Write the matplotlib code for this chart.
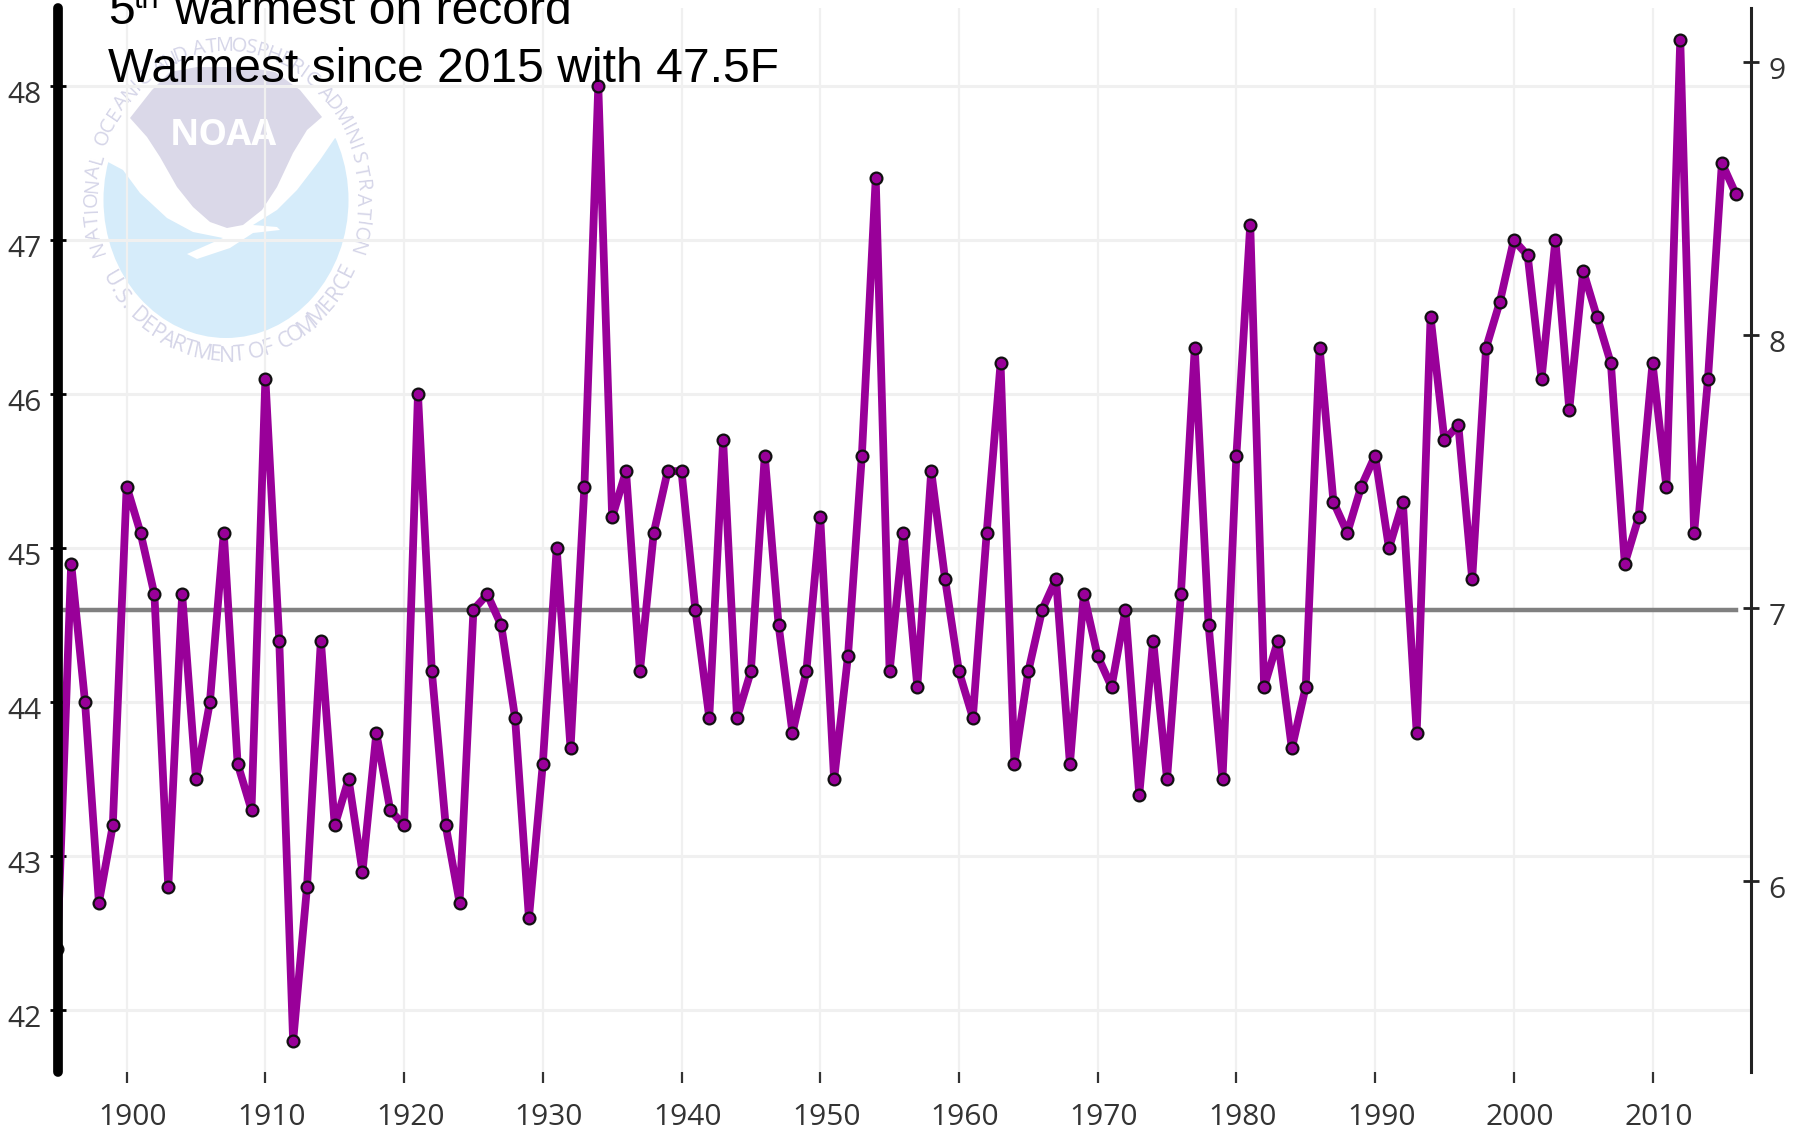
# %%
import numpy as np
import matplotlib.pyplot as plt
from matplotlib.patches import Ellipse, Polygon
from matplotlib.transforms import ScaledTranslation

plt.rcParams['font.family'] = ['Open Sans', 'DejaVu Sans']

# %%
YEARS = list(range(1895, 2017))
TEMPS = [42.4, 44.9, 44.0, 42.7, 43.2,
         45.4, 45.1, 44.7, 42.8, 44.7, 43.5, 44.0, 45.1, 43.6, 43.3,
         46.1, 44.4, 41.8, 42.8, 44.4, 43.2, 43.5, 42.9, 43.8, 43.3,
         43.2, 46.0, 44.2, 43.2, 42.7, 44.6, 44.7, 44.5, 43.9, 42.6,
         43.6, 45.0, 43.7, 45.4, 48.0, 45.2, 45.5, 44.2, 45.1, 45.5,
         45.5, 44.6, 43.9, 45.7, 43.9, 44.2, 45.6, 44.5, 43.8, 44.2,
         45.2, 43.5, 44.3, 45.6, 47.4, 44.2, 45.1, 44.1, 45.5, 44.8,
         44.2, 43.9, 45.1, 46.2, 43.6, 44.2, 44.6, 44.8, 43.6, 44.7,
         44.3, 44.1, 44.6, 43.4, 44.4, 43.5, 44.7, 46.3, 44.5, 43.5,
         45.6, 47.1, 44.1, 44.4, 43.7, 44.1, 46.3, 45.3, 45.1, 45.4,
         45.6, 45.0, 45.3, 43.8, 46.5, 45.7, 45.8, 44.8, 46.3, 46.6,
         47.0, 46.9, 46.1, 47.0, 45.9, 46.8, 46.5, 46.2, 44.9, 45.2,
         46.2, 45.4, 48.3, 45.1, 46.1, 47.5, 47.3]
MEAN_TEMP = 44.6
LEFT_TICKS = [42, 43, 44, 45, 46, 47, 48]
RIGHT_TICKS = [6, 7, 8, 9]
X_TICKS = list(range(1900, 2011, 10))

W, H = 1798, 1131
PURPLE = '#990099'

# %%
fig = plt.figure(figsize=(W / 100, H / 100), dpi=100)

# logo goes under the chart, drawn in pixel coords
bg = fig.add_axes([0, 0, 1, 1], zorder=0)
bg.set_xlim(0, W)
bg.set_ylim(H, 0)
bg.axis('off')
bg.add_patch(Ellipse((226, 200), 245, 276, fc='#d6ecfa', ec='none'))
bg.add_patch(Polygon([(85, 50), (370, 50), (370, 138), (335, 138), (320, 160), (297, 190),
                      (277, 210), (253, 225), (277, 227), (280, 230), (253, 233),
                      (230, 248), (197, 259), (187, 254), (223, 238), (193, 232),
                      (167, 218), (140, 193), (123, 170), (108, 162), (85, 162)],
                     fc='white', ec='none'))
bg.add_patch(Polygon([(130, 118), (152, 90), (170, 72), (197, 67), (247, 67), (275, 72),
                      (300, 90), (322, 117), (307, 130), (293, 153), (277, 187),
                      (262, 210), (243, 225), (227, 228), (210, 222), (193, 207),
                      (177, 187), (160, 157), (147, 137)], fc='#dad8e8', ec='none'))
bg.text(223, 136, 'NOAA', color='white', fontsize=26, fontweight='bold',
        ha='center', va='center')


def ring_text(txt, start, stop, size, bottom=False):
    # narrow letters take less of the arc
    weights = [0.55 if c in 'I. ' else 1.3 if c in 'MW' else 1.0 for c in txt]
    pos = np.cumsum(weights) - np.array(weights) / 2
    angles = start + (stop - start) * pos / sum(weights)
    for ch, ang in zip(txt, angles):
        a = np.deg2rad(ang)
        x = 227 + 135 * np.cos(a)
        y = 201 - 155 * np.sin(a)
        rot = ang + (90 if bottom else -90)
        bg.text(x, y, ch, color='#d5d5e8', fontsize=size, ha='center', va='center',
                rotation=rot, rotation_mode='anchor')


ring_text('NATIONAL OCEANIC AND ATMOSPHERIC ADMINISTRATION', 200, -20, 14.5)
ring_text('U.S. DEPARTMENT OF COMMERCE', 208, 336, 15.5, bottom=True)

# %%
ax = fig.add_axes([58 / W, 1 - 1072 / H, (1751 - 58) / W, (1072 - 8) / H], zorder=1)
ax.patch.set_alpha(0)
ax.set_xlim(1895.05, 2017.1)
ax.set_ylim(41.6, 48.506)
ax.grid(True, axis='y', color='#f0f0f0', linewidth=2.2)
ax.grid(True, axis='x', color='#f0f0f0', linewidth=1.6)
ax.set_axisbelow(True)
ax.plot([YEARS[0], YEARS[-1]], [MEAN_TEMP, MEAN_TEMP], color='#808080', linewidth=3.2, zorder=2)
ax.plot(YEARS, TEMPS, color=PURPLE, linewidth=5.6, marker='o', markersize=8.5,
        markerfacecolor=PURPLE, markeredgecolor='#111111', markeredgewidth=1.6, zorder=3)

ax.set_xticks(X_TICKS)
ax.set_yticks(LEFT_TICKS)
ax.tick_params(axis='y', direction='inout', length=11.5, width=2, labelsize=21.5,
               labelcolor='#333333', pad=6)
ax.tick_params(axis='x', direction='out', length=8, width=1.6, labelsize=21.5,
               labelcolor='#333333', pad=14, color='#333333')
for s in ['top', 'right', 'bottom']:
    ax.spines[s].set_visible(False)
ax.spines['left'].set_linewidth(7)
ax.spines['left'].set_capstyle('round')
ax.spines['left'].set_zorder(4)

ax2 = ax.twinx()
ax2.set_ylim(5.30, 9.198)
ax2.set_yticks(RIGHT_TICKS)
ax2.tick_params(axis='y', direction='inout', length=11.5, width=2, labelsize=21.5,
                labelcolor='#333333', pad=7, color='#222222')
for s in ['top', 'left', 'bottom']:
    ax2.spines[s].set_visible(False)
ax2.spines['right'].set_linewidth(2.2)
ax2.spines['right'].set_color('#222222')

# blurry source labels sit a bit lower than their ticks
off = ScaledTranslation(0, -6 / 100, fig.dpi_scale_trans)
for lab in ax.get_yticklabels() + ax2.get_yticklabels():
    lab.set_transform(lab.get_transform() + off)
off_x = ScaledTranslation(6 / 100, 0, fig.dpi_scale_trans)
for lab in ax.get_xticklabels():
    lab.set_transform(lab.get_transform() + off_x)

# %%
fig.text(108 / W, 1 - 82 / H, 'Warmest since 2015 with 47.5F', family='Liberation Sans',
         fontsize=34.6, color='black', va='baseline', zorder=5)
fig.text(108 / W, 1 - 24 / H, '5', family='Liberation Sans',
         fontsize=34.6, color='black', va='baseline', zorder=5)
fig.text(134 / W, 1 - 8 / H, 'th', family='Liberation Sans',
         fontsize=22, color='black', va='baseline', zorder=5)
fig.text(174 / W, 1 - 24 / H, 'warmest on record', family='Liberation Sans',
         fontsize=34.6, color='black', va='baseline', zorder=5)

fig.savefig('out.png', dpi=100)
